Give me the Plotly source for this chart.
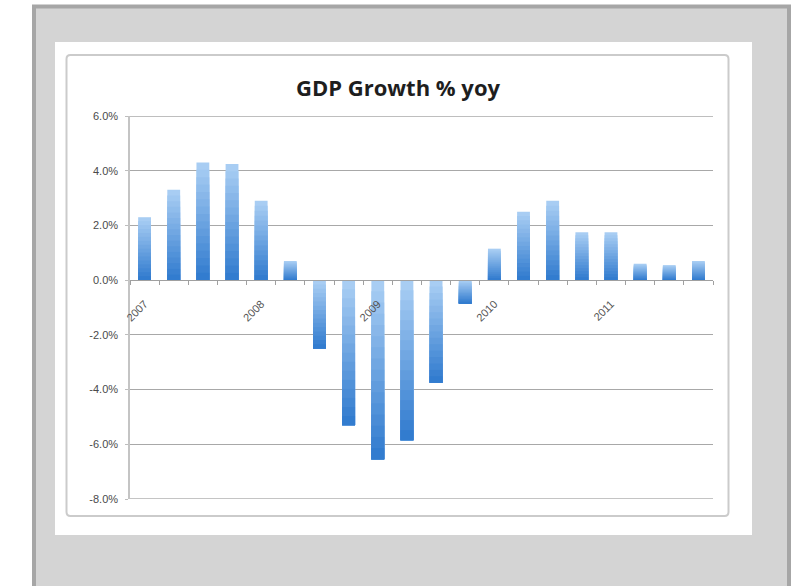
import plotly.graph_objects as go

# Quarterly GDP growth, % year on year, 2007 Q1 .. 2011 Q4
quarters = list(range(1, 21))
growth = [2.3, 3.3, 4.3, 4.25, 2.9, 0.7,
          -2.5, -5.3, -6.55, -5.85, -3.75, -0.85,
          1.15, 2.5, 2.9, 1.75, 1.75, 0.6, 0.55, 0.7]
year_pos = [1, 5, 9, 13, 17]
year_labels = ["2007", "2008", "2009", "2010", "2011"]
y_ticks = [-8, -6, -4, -2, 0, 2, 4, 6]

W, H = 796, 586
L, R, T, B = 130, 83, 116, 87
PW, PH = W - L - R, H - T - B


def px(x):
    return (x - L) / PW


def py(y):
    return (H - B - y) / PH


# vertical light-to-dark gradient: stacked overlays, each one shorter and darker,
# all sharing the bar's bottom edge so no seams show
N = 16
light = (168, 205, 243)
dark = (50, 124, 207)

fig = go.Figure()
for k in range(N):
    t = k / (N - 1)
    col = "rgb(%d,%d,%d)" % tuple(round(light[i] + (dark[i] - light[i]) * t) for i in range(3))
    bases, heights = [], []
    for v in growth:
        top = max(v, 0.0)
        bottom = min(v, 0.0)
        span = abs(v)
        seg_top = top - k * span / N
        bases.append(bottom)
        heights.append(seg_top - bottom)
    fig.add_trace(go.Bar(x=quarters, y=heights, base=bases, width=0.44,
                         marker=dict(color=col, line=dict(width=0)),
                         showlegend=False, hoverinfo="skip"))

zero_pos = (0 - min(y_ticks)) / (max(y_ticks) - min(y_ticks))


def rounded(x0, y0, x1, y1, r):
    # rounded rectangle path in paper coordinates, corners given in pixels
    return ("M %f,%f L %f,%f Q %f,%f %f,%f L %f,%f Q %f,%f %f,%f "
            "L %f,%f Q %f,%f %f,%f L %f,%f Q %f,%f %f,%f Z") % (
        px(x0 + r), py(y0), px(x1 - r), py(y0), px(x1), py(y0), px(x1), py(y0 + r),
        px(x1), py(y1 - r), px(x1), py(y1), px(x1 - r), py(y1),
        px(x0 + r), py(y1), px(x0), py(y1), px(x0), py(y1 - r),
        px(x0), py(y0 + r), px(x0), py(y0), px(x0 + r), py(y0))


shapes = [
    dict(type="rect", xref="paper", yref="paper", layer="below",
         x0=px(34), x1=px(789), y0=py(6.5), y1=py(640),
         fillcolor="#d4d4d4", line=dict(color="#a6a6a6", width=4)),
    dict(type="rect", xref="paper", yref="paper", layer="below",
         x0=px(55), x1=px(752), y0=py(42), y1=py(535),
         fillcolor="white", line=dict(width=0)),
    dict(type="path", xref="paper", yref="paper", layer="below",
         path=rounded(66.5, 55, 728.5, 516, 4),
         fillcolor="white", line=dict(color="#cbcbcb", width=2)),
]
# outermost value gridlines at the ends of the value range
for yv, col, wd in [(max(y_ticks), "#a8a8a8", 1.3), (min(y_ticks), "#c4c4c4", 2)]:
    shapes.append(dict(type="line", xref="paper", yref="y", layer="below",
                       x0=0, x1=1, y0=yv, y1=yv, line=dict(color=col, width=wd)))

fig.update_layout(
    width=W, height=H,
    margin=dict(l=L, r=R, t=T, b=B),
    paper_bgcolor="white",
    plot_bgcolor="rgba(0,0,0,0)",
    barmode="overlay",
    shapes=shapes,
    title=dict(text="<b>GDP Growth % yoy</b>", x=398 / W, xanchor="center",
               y=1 - 88 / H, yanchor="middle", yref="container",
               font=dict(family="Open Sans", size=22, color="#1e1e1e")),
    xaxis=dict(range=[0.5, 20.5], anchor="free", position=zero_pos,
               tickmode="array", tickvals=year_pos, ticktext=year_labels,
               tickangle=-45, ticks="", ticklabelstandoff=12,
               showgrid=False, zeroline=False,
               showline=True, linecolor="#a0a0a0", linewidth=1.3,
               tickfont=dict(family="Liberation Sans", size=11, color="#555555"),
               minor=dict(tick0=0.5, dtick=1, ticks="outside", ticklen=4,
                          tickcolor="#a0a0a0", tickwidth=1, showgrid=False)),
    yaxis=dict(range=[min(y_ticks), max(y_ticks)], tickvals=y_ticks,
               ticktext=["%.1f%%" % v for v in y_ticks],
               showgrid=True, gridcolor="#a8a8a8", gridwidth=1.3,
               zeroline=False, showline=True, linecolor="#c4c4c4", linewidth=1.5,
               ticks="outside", ticklen=3, tickcolor="#bdbdbd",
               ticklabelstandoff=5,
               tickfont=dict(family="Liberation Sans", size=11, color="#4a4a4a")),
)

fig.write_html("out.html")
